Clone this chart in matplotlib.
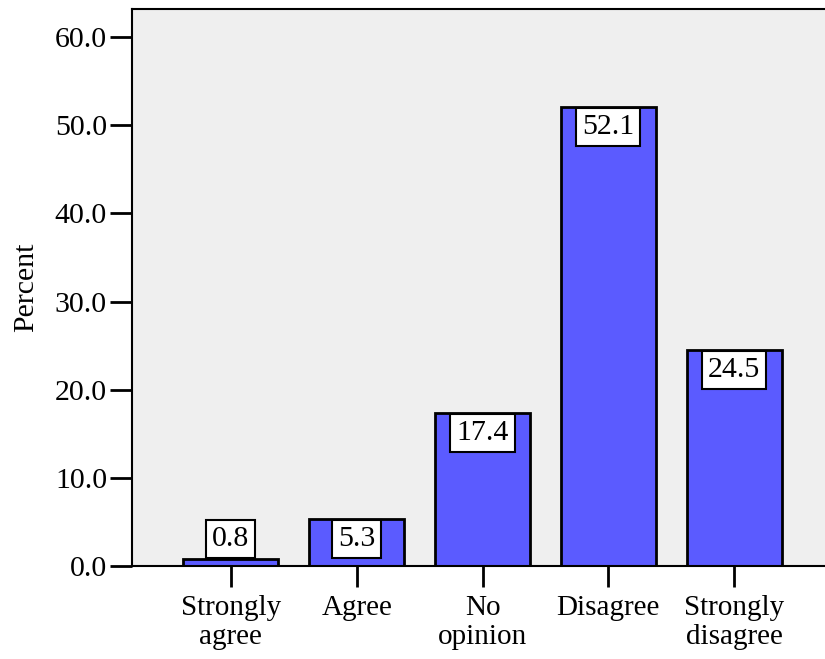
import matplotlib
matplotlib.use("Agg")
import matplotlib.pyplot as plt

# data
categories = ["Strongly\nagree", "Agree", "No\nopinion", "Disagree", "Strongly\ndisagree"]
percents = [0.8, 5.3, 17.4, 52.1, 24.5]
y_ticks = [0, 10, 20, 30, 40, 50, 60]

plt.rcParams["font.family"] = ["Liberation Serif", "DejaVu Serif"]
FS = 21.5

fig = plt.figure(figsize=(8.25, 6.59), dpi=100)
ax = fig.add_axes([132 / 825, 1 - 566 / 659, (833 - 132) / 825, (566 - 9) / 659])
ax.set_facecolor("#efefef")

x = list(range(len(categories)))
ax.bar(x, percents, width=0.755, color="#5b5bff", edgecolor="black", linewidth=2, zorder=2)

for xi, v in zip(x, percents):
    label = f"{v:.1f}"
    box = dict(boxstyle="square,pad=0.2", fc="white", ec="black", lw=1.5)
    if v < 3:
        # too short: put the box on top of the bar
        ax.annotate(label, (xi, v), xytext=(0, 5), textcoords="offset points",
                    ha="center", va="bottom", fontsize=FS, zorder=3, bbox=box)
    else:
        ax.annotate(label, (xi, v), xytext=(0, -5), textcoords="offset points",
                    ha="center", va="top", fontsize=FS, zorder=3, bbox=box)

ax.set_xlim(-0.786, len(categories) - 1 + 0.786)
ax.set_ylim(0, 63.2)
ax.set_yticks(y_ticks)
ax.set_yticklabels([f"{t:.1f}" for t in y_ticks])
ax.set_xticks(x)
ax.set_xticklabels(categories, linespacing=1.15, fontsize=21)

ax.tick_params(axis="y", length=16, width=2, labelsize=FS, pad=2)
ax.tick_params(axis="x", length=15, width=2, pad=6)

for side in ["top", "left", "bottom"]:
    ax.spines[side].set_linewidth(1.5)
ax.spines["right"].set_visible(False)

ax.set_ylabel("Percent", fontsize=FS, labelpad=11)

fig.savefig("out.png", dpi=100)
